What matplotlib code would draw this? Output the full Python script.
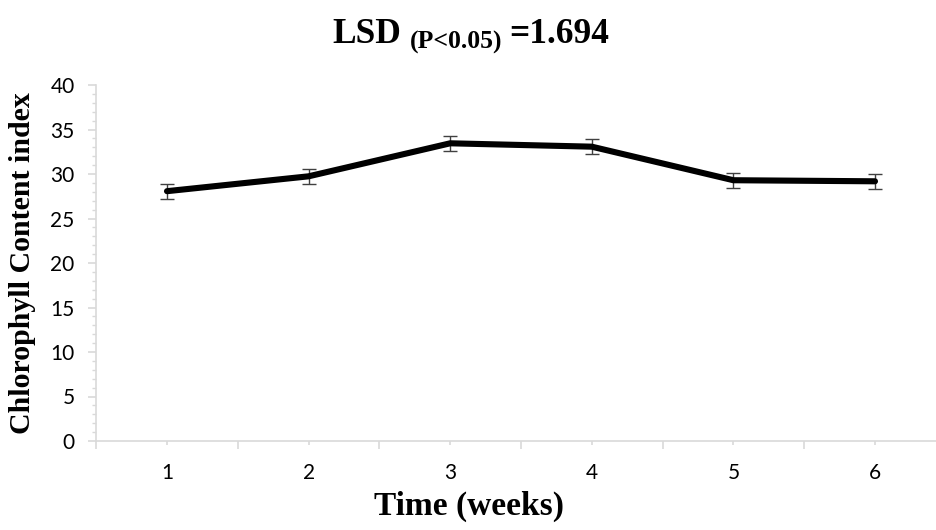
import matplotlib
matplotlib.use("Agg")
import matplotlib.pyplot as plt
from matplotlib.ticker import MultipleLocator, FixedLocator

weeks = [1, 2, 3, 4, 5, 6]
week_labels = ["1", "2", "3", "4", "5", "6"]
chlorophyll = [28.07, 29.74, 33.45, 33.07, 29.3, 29.18]
err = [0.85, 0.85, 0.85, 0.85, 0.85, 0.85]

W, H = 937, 530
fig = plt.figure(figsize=(W / 100, H / 100), dpi=100)
ax = fig.add_axes([96.2 / W, 1 - 441 / H, 849.6 / W, (441 - 85) / H])

grey = "#d9d9d9"
ax.errorbar(weeks, chlorophyll, yerr=err, fmt="none", ecolor="#404040",
            elinewidth=1.0, capsize=4.7, capthick=1.0, zorder=2)
ax.plot(weeks, chlorophyll, color="black", lw=4.4, solid_capstyle="round",
        solid_joinstyle="round", zorder=3)

ax.set_xlim(0.5, 6.5)
ax.set_ylim(0, 40)
ax.set_xticks(weeks)
ax.set_xticklabels(week_labels)
ax.xaxis.set_minor_locator(FixedLocator([0.5 + i for i in range(7)]))
ax.yaxis.set_major_locator(MultipleLocator(5))
ax.yaxis.set_minor_locator(MultipleLocator(1))

for s in ["top", "right"]:
    ax.spines[s].set_visible(False)
for s in ["left", "bottom"]:
    ax.spines[s].set_color(grey)
    ax.spines[s].set_linewidth(1.2)

tickfont = "Lato"
ax.tick_params(axis="x", which="major", length=3, width=1.2, color=grey,
               pad=13, labelsize=15)
ax.tick_params(axis="x", which="minor", length=5.5, width=1.2, color=grey)
ax.tick_params(axis="y", which="major", length=5.5, width=1.2, color=grey,
               pad=10, labelsize=15)
ax.tick_params(axis="y", which="minor", length=3, width=1.0, color=grey)
for lab in ax.get_xticklabels() + ax.get_yticklabels():
    lab.set_fontfamily(tickfont)

serif = "Liberation Serif"
fig.text(23 / W, 0.5 * ((1 - 441 / H) + (1 - 85 / H)), "Chlorophyll Content index",
         rotation=90, ha="center", va="center", fontsize=21.5,
         fontweight="bold", family=serif)
fig.text(469 / W, 1 - 506 / H, "Time (weeks)", ha="center", va="center",
         fontsize=24, fontweight="bold", family=serif)

# Title with subscript, built from pieces
renderer = fig.canvas.get_renderer()
base_y = 1 - 43 / H
sub_y = 1 - 49 / H
t1 = fig.text(0, base_y, "LSD", fontsize=25.5, fontweight="bold", family=serif, va="baseline")
t2 = fig.text(0, sub_y, "(P<0.05)", fontsize=18.5, fontweight="bold", family=serif, va="baseline")
t3 = fig.text(0, base_y, "=1.694", fontsize=25.5, fontweight="bold", family=serif, va="baseline")
w1 = t1.get_window_extent(renderer).width
w2 = t2.get_window_extent(renderer).width
w3 = t3.get_window_extent(renderer).width
gap1, gap2 = 9, 7
total = w1 + gap1 + w2 + gap2 + w3
x0 = 471 - total / 2
t1.set_x(x0 / W)
t2.set_x((x0 + w1 + gap1) / W)
t3.set_x((x0 + w1 + gap1 + w2 + gap2) / W)

fig.savefig("out.png", dpi=100)
